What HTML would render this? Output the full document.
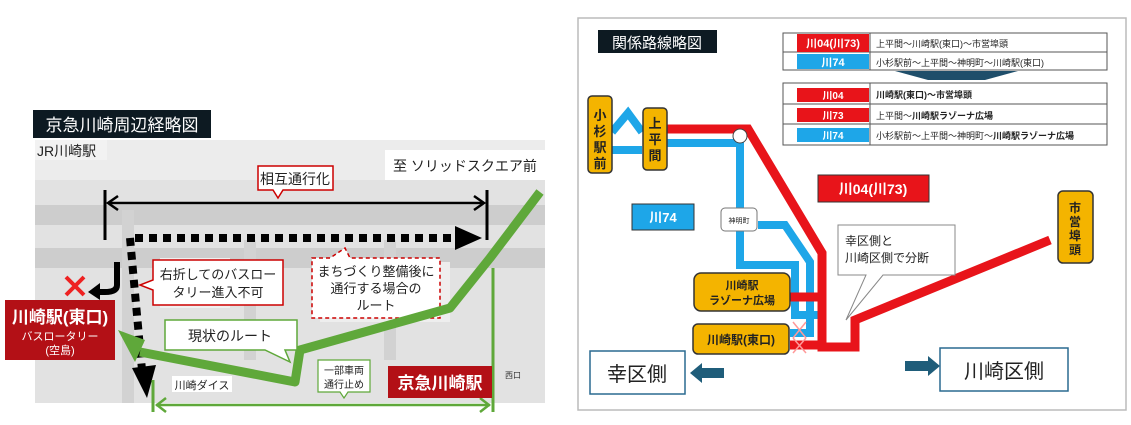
<!DOCTYPE html>
<html><head><meta charset="utf-8"><style>
body{margin:0;width:1131px;height:420px;background:#fff;overflow:hidden}
svg text{font-family:"Liberation Sans","Noto Sans CJK JP",sans-serif}
</style></head><body>
<svg width="1131" height="420" viewBox="0 0 1131 420" xmlns="http://www.w3.org/2000/svg">
<!-- LEFT PANEL -->
<rect x="35" y="140" width="510" height="263" fill="#e2e2e2"/>
<rect x="35" y="140" width="510" height="40" fill="#ececec"/>
<path d="M35,215 L545,215 M35,258 L545,258" stroke="#cdcdcd" stroke-width="20"/>
<path d="M128,210 L128,403 M250,240 L250,360 M390,240 L390,360" stroke="#d2d2d2" stroke-width="12"/>
<rect x="160" y="258" width="70" height="50" fill="#f0f0f0"/>
<rect x="320" y="262" width="130" height="60" fill="#eeeeee"/>
<rect x="33" y="110" width="178" height="28" fill="#0d1a22"/>
<text x="122" y="131" font-size="17" fill="#fff" text-anchor="middle">京急川崎周辺経略図</text>
<rect x="35" y="140" width="72" height="20" fill="#f2f2f2"/>
<text x="37" y="156" font-size="14" fill="#222">JR川崎駅</text>
<rect x="385" y="150" width="160" height="30" fill="#fff"/>
<text x="393" y="171" font-size="14" fill="#222">至  ソリッドスクエア前</text>
<path d="M258,166 H333 V190 H283 L278,198 L273,190 H258 Z" fill="#fff" stroke="#c00" stroke-width="1.5"/>
<text x="295" y="184" font-size="14" fill="#222" text-anchor="middle">相互通行化</text>
<line x1="105" y1="190" x2="105" y2="240" stroke="#000" stroke-width="3"/>
<line x1="487" y1="190" x2="487" y2="240" stroke="#000" stroke-width="3"/>
<line x1="110" y1="203" x2="482" y2="203" stroke="#000" stroke-width="2.5"/>
<path d="M118,196 L108,203 L118,210 M474,196 L484,203 L474,210" stroke="#000" stroke-width="2.5" fill="none"/>
<line x1="135" y1="238" x2="455" y2="238" stroke="#000" stroke-width="8" stroke-dasharray="8,6"/>
<path d="M455,226 L482,238 L455,250 Z" fill="#000"/>
<line x1="130" y1="238" x2="142" y2="370" stroke="#000" stroke-width="8" stroke-dasharray="8,6"/>
<path d="M132,368 L147,398 L156,365 Z" fill="#000"/>
<path d="M117,262 V285 Q117,292 105,292 H97" stroke="#000" stroke-width="6" fill="none"/>
<path d="M100,283 L88,292 L100,300 Z" fill="#000"/>
<path d="M66,277 L84,295 M84,277 L66,295" stroke="#e22" stroke-width="4"/>
<rect x="5" y="300" width="110" height="60" fill="#b31016"/>
<text x="60" y="323" font-size="17" fill="#fff" text-anchor="middle" font-weight="bold">川崎駅(東口)</text>
<text x="60" y="340" font-size="11" fill="#fff" text-anchor="middle">バスロータリー</text>
<text x="60" y="354" font-size="11" fill="#fff" text-anchor="middle">(空島)</text>
<path d="M153,260 H283 V305 H153 V290 L140,285 L153,280 Z" fill="#fff" stroke="#c00" stroke-width="1.5"/>
<text x="218" y="279" font-size="13" fill="#222" text-anchor="middle">右折してのバスロー</text>
<text x="218" y="297" font-size="13" fill="#222" text-anchor="middle">タリー進入不可</text>
<path d="M312,258 H330 L345,248 L350,258 H440 V318 H312 Z" fill="#fff" stroke="#c00" stroke-width="1.5" stroke-dasharray="4,3"/>
<text x="376" y="276" font-size="13" fill="#222" text-anchor="middle">まちづくり整備後に</text>
<text x="376" y="293" font-size="13" fill="#222" text-anchor="middle">通行する場合の</text>
<text x="376" y="310" font-size="13" fill="#222" text-anchor="middle">ルート</text>
<path d="M540,192 L490,258 L450,308 L300,350 L295,382 L140,352" stroke="#5fa83a" stroke-width="9" fill="none" stroke-linejoin="round"/>
<path d="M145,340 L118,330 L135,362 Z" fill="#5fa83a"/>
<path d="M165,320 H297 V350 H285 L290,362 L265,350 H165 Z" fill="#fff" stroke="#5fa83a" stroke-width="1.5"/>
<text x="230" y="341" font-size="14" fill="#222" text-anchor="middle">現状のルート</text>
<line x1="493" y1="268" x2="493" y2="412" stroke="#5fa83a" stroke-width="3"/>
<line x1="153" y1="380" x2="153" y2="412" stroke="#5fa83a" stroke-width="3"/>
<line x1="156" y1="405" x2="490" y2="405" stroke="#5fa83a" stroke-width="2.5"/>
<path d="M166,398 L157,405 L166,412 M480,398 L489,405 L480,412" stroke="#5fa83a" stroke-width="2.5" fill="none"/>
<rect x="172" y="376" width="60" height="16" fill="#fff"/>
<text x="202" y="389" font-size="11" fill="#222" text-anchor="middle">川崎ダイス</text>
<path d="M318,360 H370 V392 H348 L344,398 L340,392 H318 Z" fill="#fff" stroke="#5fa83a" stroke-width="1.2"/>
<text x="344" y="374" font-size="10" fill="#222" text-anchor="middle">一部車両</text>
<text x="344" y="388" font-size="10" fill="#222" text-anchor="middle">通行止め</text>
<rect x="388" y="366" width="104" height="32" fill="#b31016"/>
<text x="440" y="389" font-size="17" fill="#fff" text-anchor="middle" font-weight="bold">京急川崎駅</text>
<text x="505" y="378" font-size="8" fill="#333">西口</text>

<!-- RIGHT PANEL -->
<rect x="578" y="18" width="548" height="392" fill="#fff" stroke="#bbb" stroke-width="1.5"/>
<rect x="598" y="30" width="119" height="23" fill="#0d1a22"/>
<text x="657" y="48" font-size="15" fill="#fff" text-anchor="middle">関係路線略図</text>
<rect x="783" y="33" width="324" height="37" fill="#fff" stroke="#555"/>
<line x1="783" y1="52" x2="1107" y2="52" stroke="#555"/><line x1="870" y1="33" x2="870" y2="70" stroke="#555"/>
<rect x="797" y="34" width="72" height="18" fill="#e8141a"/><rect x="797" y="54" width="72" height="15" fill="#1ea6e8"/>
<text x="833" y="47" font-size="11" fill="#fff" text-anchor="middle" font-weight="bold">川04(川73)</text>
<text x="833" y="66" font-size="11" fill="#fff" text-anchor="middle" font-weight="bold">川74</text>
<text x="876" y="47" font-size="9" fill="#222">上平間～川崎駅(東口)～市営埠頭</text>
<text x="876" y="66" font-size="9" fill="#222">小杉駅前～上平間～神明町～川崎駅(東口)</text>
<path d="M895,71 H1018 L985,80 H928 Z" fill="#1f4e6a"/>
<rect x="783" y="83" width="324" height="62" fill="#fff" stroke="#555"/>
<line x1="783" y1="104" x2="1107" y2="104" stroke="#555"/><line x1="783" y1="124" x2="1107" y2="124" stroke="#555"/>
<line x1="870" y1="83" x2="870" y2="145" stroke="#555"/>
<rect x="797" y="88" width="72" height="14" fill="#e8141a"/><rect x="797" y="108" width="72" height="14" fill="#e8141a"/><rect x="797" y="128" width="72" height="14" fill="#1ea6e8"/>
<text x="833" y="99" font-size="10" fill="#fff" text-anchor="middle" font-weight="bold">川04</text>
<text x="833" y="119" font-size="10" fill="#fff" text-anchor="middle" font-weight="bold">川73</text>
<text x="833" y="139" font-size="10" fill="#fff" text-anchor="middle" font-weight="bold">川74</text>
<text x="876" y="98" font-size="9" fill="#222" font-weight="bold">川崎駅(東口)～市営埠頭</text>
<text x="876" y="119" font-size="9" fill="#222">上平間～<tspan font-weight="bold">川崎駅ラゾーナ広場</tspan></text>
<text x="876" y="139" font-size="9" fill="#222">小杉駅前～上平間～神明町～<tspan font-weight="bold">川崎駅ラゾーナ広場</tspan></text>
<path d="M612,150 H642 M612,132 L628,113 L642,132" stroke="#1ea6e8" stroke-width="8" fill="none"/>
<path d="M667,143 H740 V265 H795 V315 H820" stroke="#1ea6e8" stroke-width="8" fill="none"/>
<path d="M758,225 H785 L810,262 V333 H790" stroke="#1ea6e8" stroke-width="8" fill="none"/>
<path d="M667,129 H748 L822,253 V347 H855 V320 L1050,240" stroke="#e8141a" stroke-width="9" fill="none"/>
<path d="M790,297 H822" stroke="#e8141a" stroke-width="9"/>
<path d="M790,345 H822" stroke="#e8141a" stroke-width="9"/>
<circle cx="740" cy="136" r="7" fill="#fff" stroke="#444"/>
<path d="M793,322 L806,338 M806,322 L793,338 M793,338 L806,353 M806,338 L793,353" stroke="#f99" stroke-width="1.5"/>
<rect x="588" y="96" width="24" height="77" rx="4" fill="#f4b400" stroke="#333" stroke-width="1.5"/>
<g font-size="13" fill="#222" text-anchor="middle" font-weight="bold">
<text x="600" y="120">小</text><text x="600" y="136">杉</text><text x="600" y="152">駅</text><text x="600" y="168">前</text></g>
<rect x="643" y="108" width="24" height="62" rx="4" fill="#f4b400" stroke="#333" stroke-width="1.5"/>
<g font-size="13" fill="#222" text-anchor="middle" font-weight="bold">
<text x="655" y="128">上</text><text x="655" y="144">平</text><text x="655" y="160">間</text></g>
<rect x="1058" y="191" width="35" height="72" rx="5" fill="#f4b400" stroke="#333" stroke-width="1.5"/>
<g font-size="12" fill="#222" text-anchor="middle" font-weight="bold">
<text x="1075" y="212">市</text><text x="1075" y="226">営</text><text x="1075" y="240">埠</text><text x="1075" y="254">頭</text></g>
<rect x="818" y="175" width="111" height="27" fill="#e8141a" stroke="#333"/>
<text x="873" y="194" font-size="14" fill="#fff" text-anchor="middle" font-weight="bold">川04(川73)</text>
<rect x="632" y="204" width="62" height="26" fill="#1ea6e8" stroke="#333"/>
<text x="663" y="222" font-size="13" fill="#fff" text-anchor="middle" font-weight="bold">川74</text>
<rect x="721" y="208" width="36" height="23" rx="4" fill="#fff" stroke="#777"/>
<text x="739" y="223" font-size="7" fill="#222" text-anchor="middle">神明町</text>
<rect x="694" y="273" width="96" height="38" rx="7" fill="#f4b400" stroke="#333" stroke-width="1.5"/>
<text x="742" y="289" font-size="11" fill="#222" text-anchor="middle" font-weight="bold">川崎駅</text>
<text x="742" y="304" font-size="11" fill="#222" text-anchor="middle" font-weight="bold">ラゾーナ広場</text>
<rect x="693" y="324" width="96" height="30" rx="5" fill="#f4b400" stroke="#333" stroke-width="1.5"/>
<text x="741" y="344" font-size="12" fill="#222" text-anchor="middle" font-weight="bold">川崎駅(東口)</text>
<path d="M838,225 H955 V275 H883 L846,320 L866,275 H838 Z" fill="#fff" stroke="#888"/>
<text x="845" y="245" font-size="12" fill="#222">幸区側と</text>
<text x="845" y="262" font-size="12" fill="#222">川崎区側で分断</text>
<rect x="590" y="351" width="95" height="43" fill="#fff" stroke="#2a6a90" stroke-width="1.5"/>
<text x="637" y="381" font-size="20" fill="#222" text-anchor="middle">幸区側</text>
<path d="M690,373 L702,363 V368 H724 V378 H702 V383 Z" fill="#1f5d7a"/>
<path d="M940,366 L928,356 V361 H905 V371 H928 V376 Z" fill="#1f5d7a"/>
<rect x="940" y="348" width="128" height="43" fill="#fff" stroke="#2a6a90" stroke-width="1.5"/>
<text x="1004" y="378" font-size="20" fill="#222" text-anchor="middle">川崎区側</text>
</svg>
</body></html>
